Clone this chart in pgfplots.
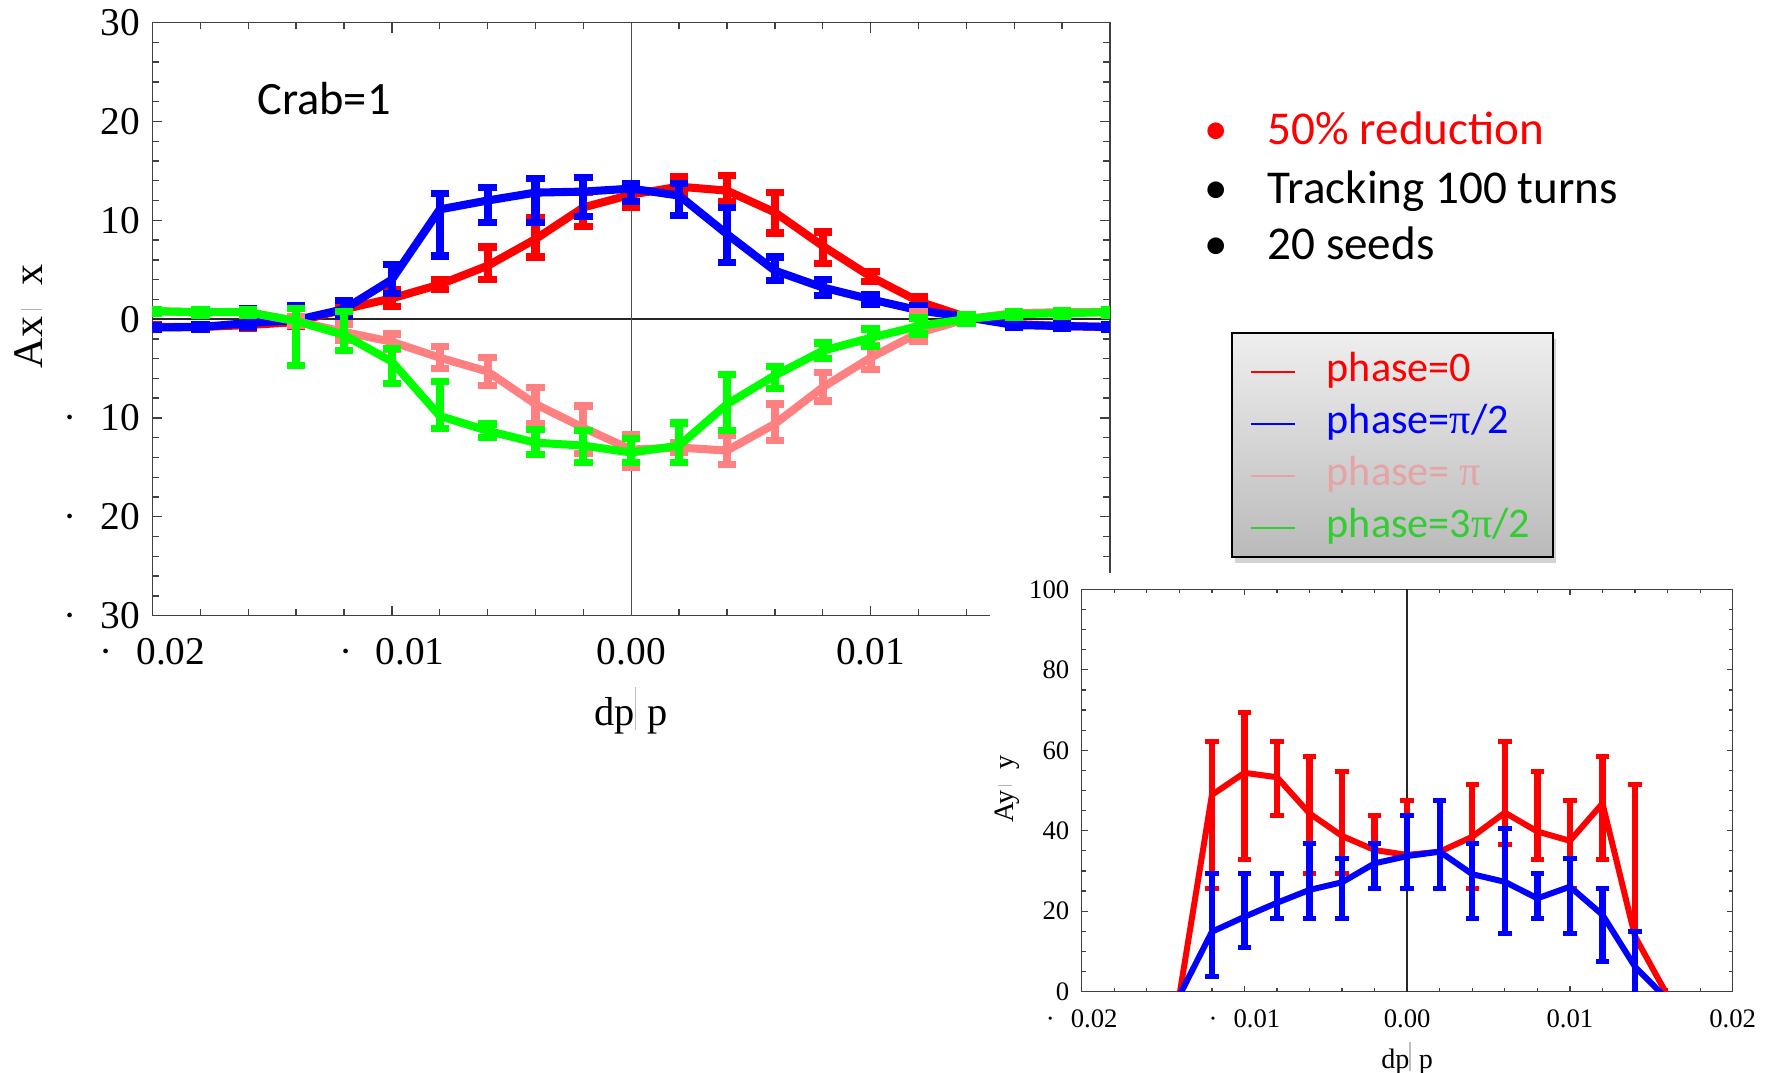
\documentclass[border=0pt]{standalone}
\usepackage{fontspec}
\setmainfont{Liberation Serif}
\newfontfamily\carlito{Carlito}
\usepackage{pgfplots}
\usepackage{pgfplotstable}
\pgfplotsset{compat=1.18}
\usetikzlibrary{shadows}

\definecolor{pr}{HTML}{FF0000}
\definecolor{pb}{HTML}{0000FF}
\definecolor{pp}{HTML}{FF8080}
\definecolor{pg}{HTML}{00FF00}
\definecolor{lpink}{HTML}{E6A3A3}
\definecolor{lgreen}{HTML}{33CC33}

% main plot: x  y  error+  error-
\pgfplotstableread{
x y ep em
-0.020 -0.8 0.2 0.2
-0.018 -0.8 0.2 0.2
-0.016 -0.6 0.3 0.3
-0.014 -0.3 0.4 0.4
-0.012 1.0 0.6 0.6
-0.010 2.1 0.9 0.8
-0.008 3.5 0.5 0.5
-0.006 5.4 1.9 1.4
-0.004 8.1 2.2 1.8
-0.002 11.3 1.5 1.9
0.000 12.6 0.9 1.3
0.002 13.4 1.0 0.8
0.004 13.0 1.5 1.1
0.006 10.8 2.0 2.1
0.008 7.4 1.4 1.8
0.010 4.3 0.5 0.5
0.012 1.8 0.5 0.5
0.014 0.2 0.2 0.2
0.016 -0.5 0.2 0.2
0.018 -0.7 0.2 0.2
0.020 -0.8 0.2 0.2
}\redmain

\pgfplotstableread{
x y ep em
-0.020 -0.85 0.2 0.2
-0.018 -0.8 0.2 0.2
-0.016 -0.4 1.5 0.4
-0.014 -0.1 1.5 0.4
-0.012 1.0 0.9 0.6
-0.010 4.0 1.5 1.4
-0.008 11.1 1.6 4.7
-0.006 12.0 1.3 2.2
-0.004 12.8 1.4 3.0
-0.002 12.9 1.4 2.5
0.000 13.2 0.5 1.3
0.002 12.5 1.2 2.0
0.004 8.6 2.7 2.9
0.006 4.9 1.4 1.0
0.008 3.2 0.8 0.8
0.010 2.0 0.5 0.5
0.012 0.9 0.5 0.5
0.014 0.2 0.2 0.2
0.016 -0.6 0.2 0.2
0.018 -0.7 0.2 0.2
0.020 -0.8 0.2 0.2
}\bluemain

\pgfplotstableread{
x y ep em
-0.020 0.8 0.2 0.2
-0.018 0.7 0.2 0.2
-0.016 0.7 0.2 0.2
-0.014 -0.2 0.4 0.4
-0.012 -1.3 0.8 0.8
-0.010 -2.3 0.8 0.8
-0.008 -3.9 1.1 1.1
-0.006 -5.3 1.4 1.4
-0.004 -8.6 1.7 2.0
-0.002 -11.0 2.2 2.6
0.000 -13.2 1.5 1.8
0.002 -13.0 0.5 0.5
0.004 -13.3 1.5 1.4
0.006 -10.6 2.0 1.7
0.008 -6.9 1.5 1.4
0.010 -3.9 1.2 1.2
0.012 -1.4 2.2 0.8
0.014 0.0 0.2 0.2
0.016 0.6 0.2 0.2
0.018 0.7 0.2 0.2
0.020 0.7 0.2 0.2
}\pinkmain

\pgfplotstableread{
x y ep em
-0.020 0.8 0.2 0.2
-0.018 0.7 0.3 0.3
-0.016 0.7 0.3 0.3
-0.014 -0.2 1.3 4.5
-0.012 -1.6 2.4 1.6
-0.010 -4.3 1.3 2.2
-0.008 -9.8 3.5 1.3
-0.006 -11.3 0.7 0.7
-0.004 -12.5 1.3 1.2
-0.002 -12.8 1.5 1.7
0.000 -13.5 1.4 1.0
0.002 -12.8 2.3 1.7
0.004 -8.6 3.0 2.7
0.006 -5.7 0.9 1.3
0.008 -3.2 0.8 0.8
0.010 -1.9 0.9 0.9
0.012 -0.7 0.8 0.8
0.014 0.0 0.4 0.4
0.016 0.5 0.3 0.3
0.018 0.6 0.3 0.3
0.020 0.7 0.3 0.3
}\greenmain

% inset
\pgfplotstableread{
x y ep em
-0.014 -1 0 0
-0.012 48.9 13.2 23.2
-0.010 54.4 14.9 21.5
-0.008 53.3 8.8 9.4
-0.006 44.3 14.1 14.9
-0.004 38.7 16.1 9.3
-0.002 35.2 8.7 9.5
0.000 34.0 13.6 8.3
0.002 34.8 12.8 9.1
0.004 38.5 12.9 12.8
0.006 44.5 17.6 8.0
0.008 39.8 15.0 6.9
0.010 37.5 10.1 11.8
0.012 46.8 11.6 13.9
0.014 13.7 37.7 30
0.016 -1 0 0
}\redins

\pgfplotstableread{
x y ep em
-0.014 -1 0 0
-0.012 14.9 14.5 11.2
-0.010 18.6 10.8 7.6
-0.008 22.1 7.3 3.9
-0.006 25.3 11.6 7.1
-0.004 27.2 5.9 9.0
-0.002 31.9 5.0 6.2
0.000 33.7 10.2 8.0
0.002 34.8 12.8 9.1
0.004 29.2 7.7 11.0
0.006 27.3 13.3 12.8
0.008 23.2 6.2 5.0
0.010 26.1 7.0 11.6
0.012 19.1 6.6 11.6
0.014 6.2 8.7 10
0.016 -2 0 0
}\blueins

\pgfplotsset{
  mainser/.style={color=#1, mark=none, line width=2.3pt, line join=round,
    error bars/y dir=both, error bars/y explicit,
    error bars/error bar style={line width=2.3pt, color=#1},
    error bars/error mark options={rotate=90, line width=2.1pt, mark size=0.92mm, color=#1}},
  insser/.style={color=#1, mark=none, line width=1.7pt, line join=round,
    error bars/y dir=both, error bars/y explicit,
    error bars/error bar style={line width=1.8pt, color=#1},
    error bars/error mark options={rotate=90, line width=1.4pt, mark size=0.67mm, color=#1}},
}

\newcommand{\mk}{{\color{black!30}\rule[0.05ex]{0.35pt}{1.1ex}}}
\newcommand{\dpp}{dp{\color{black!25}\rule[-0.25ex]{0.3pt}{2.3ex}}\hspace{0.3em}p}

\begin{document}
\begin{tikzpicture}[x=1cm,y=1cm]
\path[use as bounding box] (0,0) rectangle (17.71,10.73);

% legend frame
\path[draw=black, line width=0.7pt, top color=gray!13, bottom color=gray!54,
  drop shadow={shadow xshift=0.3mm, shadow yshift=-0.6mm, opacity=0.35}]
  (12.32,7.40) rectangle (15.53,5.16);

\begin{axis}[
  at={(1.525cm,4.574cm)}, anchor=south west,
  scale only axis, width=9.575cm, height=5.93cm,
  xmin=-0.02, xmax=0.02, ymin=-30, ymax=30,
  xtick={-0.02,-0.01,0,0.01,0.02},
  xticklabels={{·\hspace{0.6em}0.02},{·\hspace{0.6em}0.01},0.00,0.01,0.02},
  ytick={-30,-20,-10,0,10,20,30},
  yticklabels={{·\hspace{0.6em}30},{·\hspace{0.6em}20},{·\hspace{0.6em}10},0,10,20,30},
  minor x tick num=4, minor y tick num=4,
  scaled x ticks=false,
  major tick length=1mm, minor tick length=0.65mm,
  axis line style={black!75, line width=0.45pt},
  tick style={black!75, line width=0.4pt},
  tick label style={font=\fontsize{11.2}{13}\selectfont},
  xticklabel style={yshift=-1mm},
  xlabel={\dpp},
  ylabel={Ax\hspace{0.15em}\mk\hspace{0.55em}x},
  xlabel style={at={(axis description cs:0.5,-0.1845)}, anchor=base, font=\fontsize{11.5}{13}\selectfont},
  ylabel style={at={(axis description cs:-0.1144,0.5044)}, anchor=base, font=\fontsize{12}{14}\selectfont},
  legend style={at={(axis description cs:1.1274,0.4733)}, anchor=north west,
    draw=none, fill=none, inner xsep=1.7mm, inner ysep=1mm, row sep=0pt,
    font=\carlito\fontsize{12}{14}\selectfont,
    nodes={inner sep=0pt, text height=3.6mm, text depth=1.6mm},
    /tikz/every odd column/.append style={column sep=3.1mm}},
  legend cell align=left,
  legend image code/.code={\draw[#1] (0cm,0cm) -- (0.44cm,0cm);},
]
\addplot[forget plot, black!85, line width=0.4pt] coordinates {(-0.02,0) (0.02,0)};
\addplot[forget plot, black!70, line width=0.4pt] coordinates {(0,-30) (0,30)};
\addplot[forget plot, mainser=pr] table[x=x, y=y, y error plus=ep, y error minus=em] {\redmain};
\addplot[forget plot, mainser=pb] table[x=x, y=y, y error plus=ep, y error minus=em] {\bluemain};
\addplot[forget plot, mainser=pp] table[x=x, y=y, y error plus=ep, y error minus=em] {\pinkmain};
\addplot[forget plot, mainser=pg] table[x=x, y=y, y error plus=ep, y error minus=em] {\greenmain};

\addlegendimage{color=pr, line width=0.6pt}
\addlegendentry{\textcolor{pr}{phase=0}}
\addlegendimage{color=pb, line width=0.6pt}
\addlegendentry{\textcolor{pb}{phase={\rmfamily π}/2}}
\addlegendimage{color=lpink, line width=0.6pt}
\addlegendentry{\textcolor{lpink}{phase= {\rmfamily π}}}
\addlegendimage{color=lgreen, line width=0.6pt}
\addlegendentry{\textcolor{lgreen}{phase=3{\rmfamily π}/2}}
\end{axis}

% the inset sits on a white sheet that hides the corner of the main plot
\fill[white] (9.90,0) rectangle (17.71,5.00);

\begin{axis}[
  at={(10.817cm,0.813cm)}, anchor=south west,
  scale only axis, width=6.51cm, height=4.024cm,
  xmin=-0.02, xmax=0.02, ymin=0, ymax=100,
  xtick={-0.02,-0.01,0,0.01,0.02},
  xticklabels={{·\hspace{0.6em}0.02},{·\hspace{0.6em}0.01},0.00,0.01,0.02},
  ytick={0,20,40,60,80,100},
  yticklabels={0,20,40,60,80,100},
  minor x tick num=4, minor y tick num=3,
  scaled x ticks=false,
  major tick length=0.6mm, minor tick length=0.4mm,
  axis line style={black!75, line width=0.4pt},
  tick style={black!75, line width=0.35pt},
  tick label style={font=\fontsize{7.6}{9}\selectfont},
  xticklabel style={yshift=-0.6mm},
  xlabel={\dpp},
  ylabel={Ay\hspace{0.15em}\mk\hspace{0.55em}y},
  xlabel style={at={(axis description cs:0.5,-0.19)}, anchor=base, font=\fontsize{8}{10}\selectfont},
  ylabel style={at={(axis description cs:-0.1055,0.5037)}, anchor=base, font=\fontsize{8}{10}\selectfont},
]
\addplot[black!85, line width=0.4pt] coordinates {(0,0) (0,100)};
\addplot[insser=pr] table[x=x, y=y, y error plus=ep, y error minus=em] {\redins};
\addplot[insser=pb] table[x=x, y=y, y error plus=ep, y error minus=em] {\blueins};
\end{axis}

% annotations
\node[anchor=base west, inner sep=0, font=\carlito\fontsize{13.2}{16}\selectfont] at (2.567,9.58) {Crab=1};
\begin{scope}[every node/.style={inner sep=0, font=\carlito\fontsize{13.4}{16}\selectfont}]
\node[anchor=base, text=pr] at (12.16,9.28) {•};
\node[anchor=base west, text=pr] at (12.67,9.28) {50\% reduction};
\node[anchor=base] at (12.16,8.69) {•};
\node[anchor=base west] at (12.67,8.69) {Tracking 100 turns};
\node[anchor=base] at (12.16,8.13) {•};
\node[anchor=base west] at (12.67,8.13) {20 seeds};
\end{scope}
\end{tikzpicture}
\end{document}
